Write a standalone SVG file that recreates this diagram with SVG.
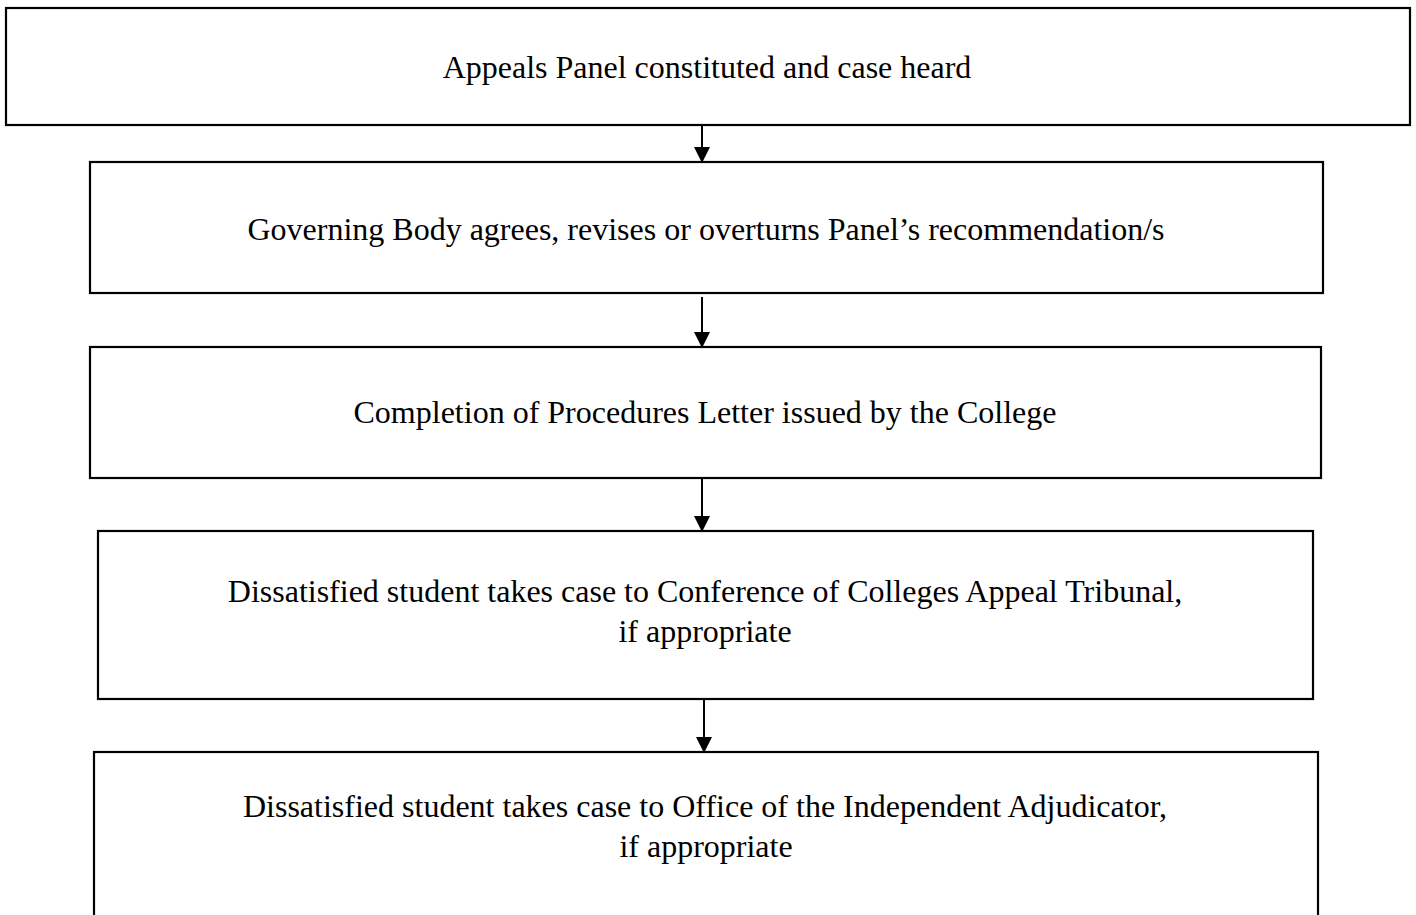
<svg xmlns="http://www.w3.org/2000/svg" width="1416" height="915" viewBox="0 0 1416 915">
<style>
.box{fill:#fff;stroke:#000;stroke-width:2.2}
.t{font-family:"Liberation Serif","Times New Roman",serif;font-size:32px;fill:#000;text-anchor:middle}
.c{stroke:#000;stroke-width:2;fill:none}
</style>
<defs>
<marker id="ah" viewBox="0 0 16 16" markerWidth="16" markerHeight="16" refX="15" refY="8" orient="auto" markerUnits="userSpaceOnUse">
<path d="M0,0 L16,8 L0,16 Z" fill="#000"/>
</marker>
</defs>
<rect width="1416" height="915" fill="#fff"/>
<g id="n1"><rect class="box" x="6" y="8" width="1404" height="117"/><text class="t" x="707" y="78">Appeals Panel constituted and case heard</text></g>
<g id="n2"><rect class="box" x="90" y="162" width="1233" height="131"/><text class="t" x="706" y="240">Governing Body agrees, revises or overturns Panel’s recommendation/s</text></g>
<g id="n3"><rect class="box" x="90" y="347" width="1231" height="131"/><text class="t" x="705" y="423">Completion of Procedures Letter issued by the College</text></g>
<g id="n4"><rect class="box" x="98" y="531" width="1215" height="168"/><text class="t" x="705" y="602">Dissatisfied student takes case to Conference of Colleges Appeal Tribunal,</text><text class="t" x="705" y="642">if appropriate</text></g>
<g id="n5"><rect class="box" x="94" y="752" width="1224" height="180"/><text class="t" x="705" y="817">Dissatisfied student takes case to Office of the Independent Adjudicator,</text><text class="t" x="706" y="857">if appropriate</text></g>
<g id="connectors">
<line class="c" x1="702" y1="125" x2="702" y2="162" marker-end="url(#ah)"/>
<line class="c" x1="702" y1="297" x2="702" y2="347" marker-end="url(#ah)"/>
<line class="c" x1="702" y1="478" x2="702" y2="531" marker-end="url(#ah)"/>
<line class="c" x1="704" y1="699" x2="704" y2="752" marker-end="url(#ah)"/>
</g>
</svg>
